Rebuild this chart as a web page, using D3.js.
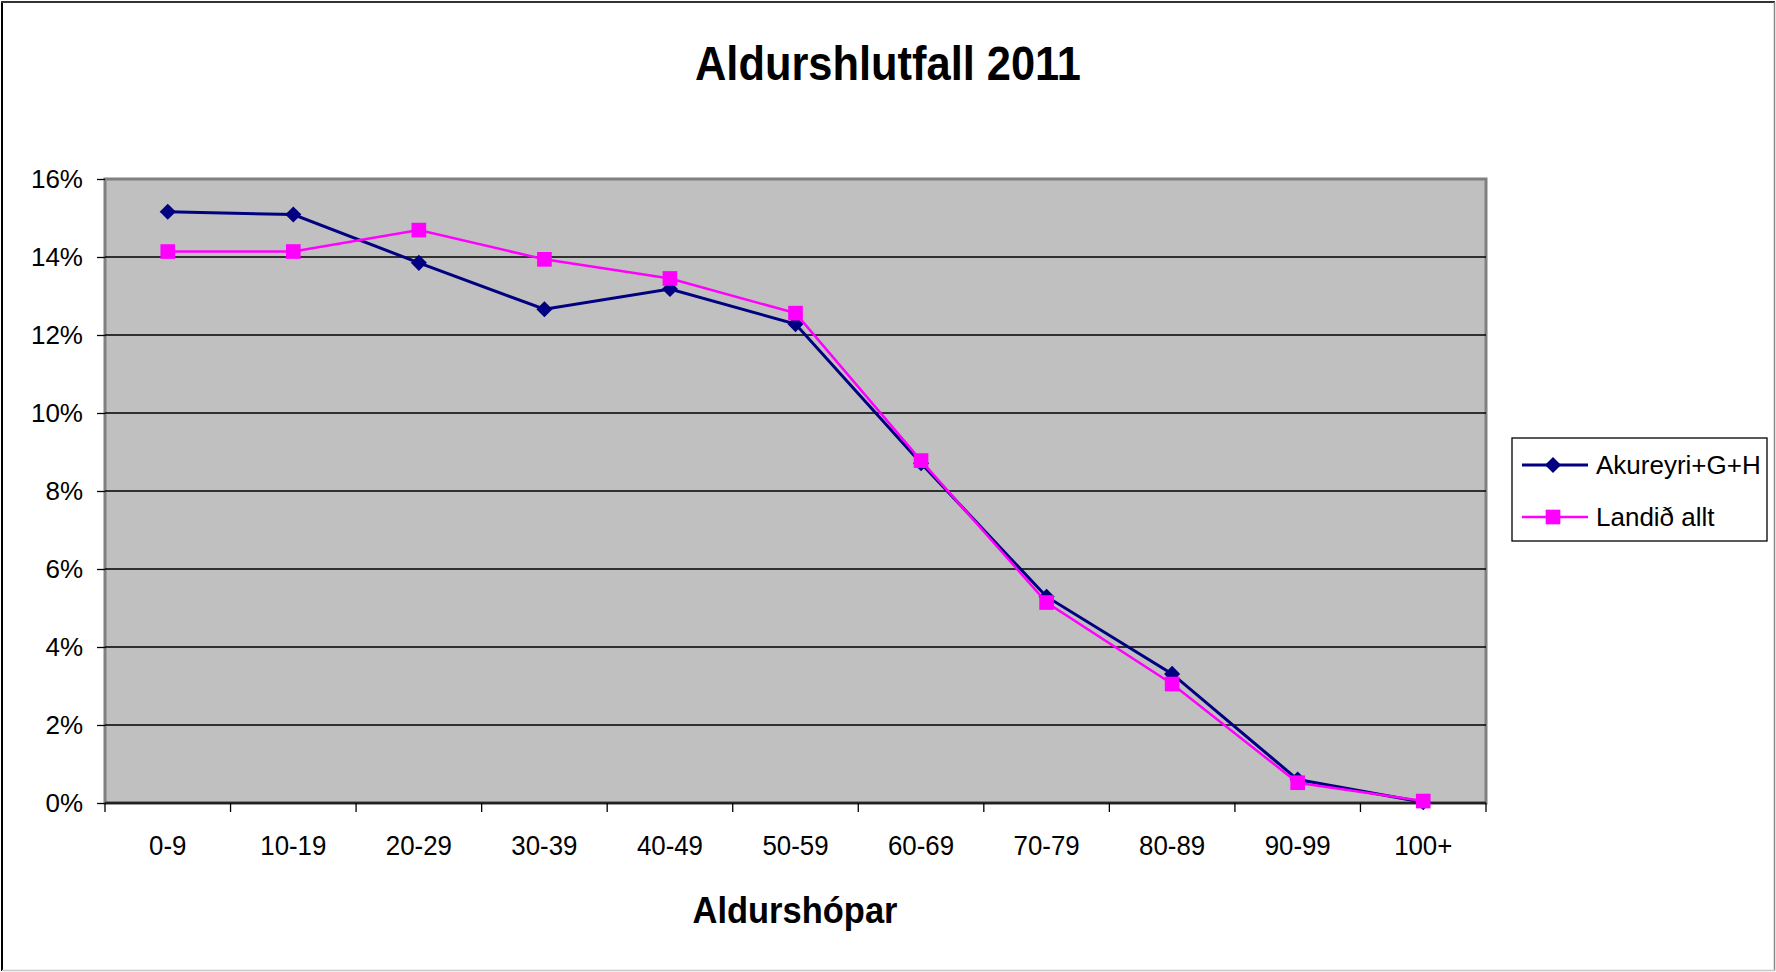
<!DOCTYPE HTML>
<html lang="is">
<head>
  <meta charset="utf-8">
  <title>Aldurshlutfall 2011</title>
  <script src="https://d3js.org/d3.v7.min.js"></script>
  <style>
    body { margin: 0; background: #fff; }
    text { font-family: "Liberation Sans", Arial, sans-serif; }
  </style>
</head>
<body>
<div id="stage"></div>
<script>
  // age groups and shares (%)
  var groups = ["0-9", "10-19", "20-29", "30-39", "40-49", "50-59", "60-69", "70-79", "80-89", "90-99", "100+"];
  var akureyri = [15.16, 15.09, 13.85, 12.66, 13.18, 12.28, 8.71, 5.29, 3.31, 0.6, 0.02];
  var landid = [14.14, 14.14, 14.69, 13.94, 13.45, 12.56, 8.78, 5.14, 3.05, 0.52, 0.05];
  var yTicks = [0, 2, 4, 6, 8, 10, 12, 14, 16];
  var seriesNames = ["Akureyri+G+H", "Landið allt"];

  var W = 1776, H = 972;
  var plot = { left: 105, right: 1486, top: 179, bottom: 803 };

  var svg = d3.select("#stage").append("svg").attr("width", W).attr("height", H);

  // chart frame
  svg.append("line").attr("x1", 2).attr("y1", 1).attr("x2", 2).attr("y2", H - 1).style("stroke", "#000").style("stroke-width", 2);
  svg.append("line").attr("x1", 1).attr("y1", 2).attr("x2", W - 1).attr("y2", 2).style("stroke", "#333").style("stroke-width", 2);
  svg.append("line").attr("x1", W - 1.5).attr("y1", 2).attr("x2", W - 1.5).attr("y2", H - 1).style("stroke", "#888").style("stroke-width", 1.5);
  svg.append("line").attr("x1", 2).attr("y1", H - 1.5).attr("x2", W - 1).attr("y2", H - 1.5).style("stroke", "#c8c8c8").style("stroke-width", 1.5);

  var x = d3.scaleBand().domain(groups).range([plot.left, plot.right]).padding(0);
  var y = d3.scaleLinear().domain([0, 16]).range([plot.bottom, plot.top]);
  var cx = function (d, i) { return x(groups[i]) + x.bandwidth() / 2; };

  // plot area
  svg.append("rect")
    .attr("x", plot.left).attr("y", plot.top)
    .attr("width", plot.right - plot.left).attr("height", plot.bottom - plot.top)
    .style("fill", "#c0c0c0").style("stroke", "#808080").style("stroke-width", 3);

  // gridlines
  svg.append("g").selectAll("line").data(yTicks.slice(1, -1)).enter().append("line")
    .attr("x1", plot.left).attr("x2", plot.right)
    .attr("y1", function (d) { return y(d); }).attr("y2", function (d) { return y(d); })
    .style("stroke", "#000").style("stroke-width", 1.3);

  // y axis
  var yAxis = svg.append("g").attr("transform", "translate(" + plot.left + ",0)")
    .call(d3.axisLeft(y).tickValues(yTicks).tickSize(8).tickPadding(14).tickFormat(function (d) { return d + "%"; }));
  yAxis.select(".domain").remove();
  yAxis.selectAll("line").style("stroke", "#000").style("stroke-width", 1.3);
  yAxis.selectAll("text").style("font-size", "26px").style("fill", "#000").attr("font-family", null);

  // x axis: base line, ticks at band edges, labels at centres
  svg.append("line").attr("x1", plot.left).attr("x2", plot.right).attr("y1", plot.bottom).attr("y2", plot.bottom)
    .style("stroke", "#222").style("stroke-width", 2.5);
  var edges = groups.map(function (g) { return x(g); }).concat([plot.right]);
  svg.append("g").selectAll("line").data(edges).enter().append("line")
    .attr("x1", function (d) { return d; }).attr("x2", function (d) { return d; })
    .attr("y1", plot.bottom).attr("y2", plot.bottom + 9)
    .style("stroke", "#000").style("stroke-width", 1.3);
  svg.append("g").selectAll("text").data(groups).enter().append("text")
    .attr("transform", function (d) { return "translate(" + (x(d) + x.bandwidth() / 2) + ",855) scale(0.94,1)"; })
    .attr("text-anchor", "middle")
    .style("font-size", "27.5px")
    .text(function (d) { return d; });

  // lines and markers
  var line = d3.line().x(function (d, i) { return cx(d, i); }).y(function (d) { return y(d); });

  svg.append("path").datum(akureyri).attr("d", line)
    .style("fill", "none").style("stroke", "#000080").style("stroke-width", 3);
  svg.append("g").selectAll("path").data(akureyri).enter().append("path")
    .attr("d", d3.symbol().type(d3.symbolSquare).size(130))
    .attr("transform", function (d, i) { return "translate(" + cx(d, i) + "," + y(d) + ") rotate(45)"; })
    .style("fill", "#000080");

  svg.append("path").datum(landid).attr("d", line)
    .style("fill", "none").style("stroke", "#ff00ff").style("stroke-width", 2.5);
  svg.append("g").selectAll("path").data(landid).enter().append("path")
    .attr("d", d3.symbol().type(d3.symbolSquare).size(215))
    .attr("transform", function (d, i) { return "translate(" + cx(d, i) + "," + y(d) + ")"; })
    .style("fill", "#ff00ff");

  // titles
  svg.append("text").attr("x", 888).attr("y", 80).attr("text-anchor", "middle")
    .attr("textLength", 386).attr("lengthAdjust", "spacingAndGlyphs")
    .style("font-size", "48px").style("font-weight", "bold")
    .text("Aldurshlutfall 2011");
  svg.append("text").attr("x", 795).attr("y", 923).attr("text-anchor", "middle")
    .attr("textLength", 205).attr("lengthAdjust", "spacingAndGlyphs")
    .style("font-size", "37px").style("font-weight", "bold")
    .text("Aldurshópar");

  // legend
  var leg = svg.append("g");
  leg.append("rect").attr("x", 1512).attr("y", 438).attr("width", 255).attr("height", 103)
    .style("fill", "#fff").style("stroke", "#000").style("stroke-width", 1.3);
  var legColors = ["#000080", "#ff00ff"];
  var legRows = [465, 517];
  seriesNames.forEach(function (name, k) {
    leg.append("line").attr("x1", 1522).attr("x2", 1588).attr("y1", legRows[k]).attr("y2", legRows[k])
      .style("stroke", legColors[k]).style("stroke-width", k === 0 ? 3 : 2.5);
    leg.append("path")
      .attr("d", d3.symbol().type(d3.symbolSquare).size(k === 0 ? 130 : 215))
      .attr("transform", "translate(1553," + legRows[k] + ")" + (k === 0 ? " rotate(45)" : ""))
      .style("fill", legColors[k]);
    leg.append("text").attr("x", 1596).attr("y", legRows[k] + 9)
      .style("font-size", "26px").text(name);
  });
</script>
</body>
</html>
